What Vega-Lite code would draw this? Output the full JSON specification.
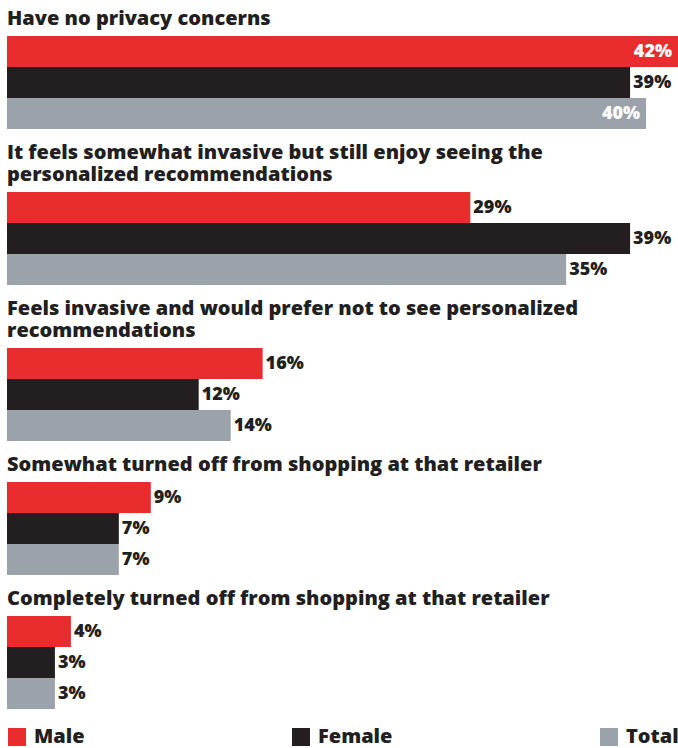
{
  "$schema": "https://vega.github.io/schema/vega-lite/v6.json",
  "padding": {"left": 7, "top": 9, "right": 0, "bottom": 0},
  "background": "white",
  "config": {
    "view": {"stroke": null},
    "title": {"font": "Open Sans", "fontWeight": 800, "fontSize": 20, "anchor": "start", "color": "#231f20", "lineHeight": 22, "offset": 7},
    "concat": {"spacing": 14},
    "text": {"font": "Open Sans", "fontWeight": 800, "fontSize": 18}
  },
  "data": {
    "values": [
      {"q": 1, "series": "Male", "value": 42},
      {"q": 1, "series": "Female", "value": 39},
      {"q": 1, "series": "Total", "value": 40},
      {"q": 2, "series": "Male", "value": 29},
      {"q": 2, "series": "Female", "value": 39},
      {"q": 2, "series": "Total", "value": 35},
      {"q": 3, "series": "Male", "value": 16},
      {"q": 3, "series": "Female", "value": 12},
      {"q": 3, "series": "Total", "value": 14},
      {"q": 4, "series": "Male", "value": 9},
      {"q": 4, "series": "Female", "value": 7},
      {"q": 4, "series": "Total", "value": 7},
      {"q": 5, "series": "Male", "value": 4},
      {"q": 5, "series": "Female", "value": 3},
      {"q": 5, "series": "Total", "value": 3}
    ]
  },
  "transform": [{"calculate": "datum.value + '%'", "as": "label"}],
  "vconcat": [
    {
      "title": {"text": "Have no privacy concerns"},
      "width": 671, "height": 93,
      "transform": [{"filter": "datum.q == 1"}],
      "encoding": {
        "y": {"field": "series", "type": "nominal", "sort": ["Male", "Female", "Total"], "axis": null, "scale": {"paddingInner": 0, "paddingOuter": 0}},
        "x": {"field": "value", "type": "quantitative", "axis": null, "scale": {"domain": [0, 42]}}
      },
      "layer": [
        {"mark": {"type": "bar"}, "encoding": {"color": {"field": "series", "type": "nominal", "scale": {"domain": ["Male", "Female", "Total"], "range": ["#e92d2e", "#231f20", "#9ca2a9"]}, "legend": {"title": null, "orient": "bottom", "direction": "horizontal", "padding": 0, "symbolType": "square", "symbolSize": 324, "symbolStrokeWidth": 0, "symbolOpacity": 1, "labelFont": "Open Sans", "labelFontWeight": 800, "labelFontSize": 20, "labelColor": "#231f20", "columnPadding": 206, "labelOffset": 7, "offset": 18}}}},
        {"transform": [{"filter": "datum.value < 40"}], "mark": {"type": "text", "align": "left", "baseline": "middle", "dx": 3, "color": "#231f20"}, "encoding": {"text": {"field": "label"}}},
        {"transform": [{"filter": "datum.value >= 40"}], "mark": {"type": "text", "align": "right", "baseline": "middle", "dx": -6, "color": "white"}, "encoding": {"text": {"field": "label"}}}
      ]
    },
    {
      "title": {"text": ["It feels somewhat invasive but still enjoy seeing the", "personalized recommendations"]},
      "width": 671, "height": 93,
      "transform": [{"filter": "datum.q == 2"}],
      "encoding": {
        "y": {"field": "series", "type": "nominal", "sort": ["Male", "Female", "Total"], "axis": null, "scale": {"paddingInner": 0, "paddingOuter": 0}},
        "x": {"field": "value", "type": "quantitative", "axis": null, "scale": {"domain": [0, 42]}}
      },
      "layer": [
        {"mark": {"type": "bar"}, "encoding": {"color": {"field": "series", "type": "nominal"}}},
        {"transform": [{"filter": "datum.value < 40"}], "mark": {"type": "text", "align": "left", "baseline": "middle", "dx": 3, "color": "#231f20"}, "encoding": {"text": {"field": "label"}}},
        {"transform": [{"filter": "datum.value >= 40"}], "mark": {"type": "text", "align": "right", "baseline": "middle", "dx": -6, "color": "white"}, "encoding": {"text": {"field": "label"}}}
      ]
    },
    {
      "title": {"text": ["Feels invasive and would prefer not to see personalized", "recommendations"]},
      "width": 671, "height": 93,
      "transform": [{"filter": "datum.q == 3"}],
      "encoding": {
        "y": {"field": "series", "type": "nominal", "sort": ["Male", "Female", "Total"], "axis": null, "scale": {"paddingInner": 0, "paddingOuter": 0}},
        "x": {"field": "value", "type": "quantitative", "axis": null, "scale": {"domain": [0, 42]}}
      },
      "layer": [
        {"mark": {"type": "bar"}, "encoding": {"color": {"field": "series", "type": "nominal"}}},
        {"transform": [{"filter": "datum.value < 40"}], "mark": {"type": "text", "align": "left", "baseline": "middle", "dx": 3, "color": "#231f20"}, "encoding": {"text": {"field": "label"}}},
        {"transform": [{"filter": "datum.value >= 40"}], "mark": {"type": "text", "align": "right", "baseline": "middle", "dx": -6, "color": "white"}, "encoding": {"text": {"field": "label"}}}
      ]
    },
    {
      "title": {"text": "Somewhat turned off from shopping at that retailer"},
      "width": 671, "height": 93,
      "transform": [{"filter": "datum.q == 4"}],
      "encoding": {
        "y": {"field": "series", "type": "nominal", "sort": ["Male", "Female", "Total"], "axis": null, "scale": {"paddingInner": 0, "paddingOuter": 0}},
        "x": {"field": "value", "type": "quantitative", "axis": null, "scale": {"domain": [0, 42]}}
      },
      "layer": [
        {"mark": {"type": "bar"}, "encoding": {"color": {"field": "series", "type": "nominal"}}},
        {"transform": [{"filter": "datum.value < 40"}], "mark": {"type": "text", "align": "left", "baseline": "middle", "dx": 3, "color": "#231f20"}, "encoding": {"text": {"field": "label"}}},
        {"transform": [{"filter": "datum.value >= 40"}], "mark": {"type": "text", "align": "right", "baseline": "middle", "dx": -6, "color": "white"}, "encoding": {"text": {"field": "label"}}}
      ]
    },
    {
      "title": {"text": "Completely turned off from shopping at that retailer"},
      "width": 671, "height": 93,
      "transform": [{"filter": "datum.q == 5"}],
      "encoding": {
        "y": {"field": "series", "type": "nominal", "sort": ["Male", "Female", "Total"], "axis": null, "scale": {"paddingInner": 0, "paddingOuter": 0}},
        "x": {"field": "value", "type": "quantitative", "axis": null, "scale": {"domain": [0, 42]}}
      },
      "layer": [
        {"mark": {"type": "bar"}, "encoding": {"color": {"field": "series", "type": "nominal"}}},
        {"transform": [{"filter": "datum.value < 40"}], "mark": {"type": "text", "align": "left", "baseline": "middle", "dx": 3, "color": "#231f20"}, "encoding": {"text": {"field": "label"}}},
        {"transform": [{"filter": "datum.value >= 40"}], "mark": {"type": "text", "align": "right", "baseline": "middle", "dx": -6, "color": "white"}, "encoding": {"text": {"field": "label"}}}
      ]
    }
  ],
  "resolve": {"scale": {"color": "shared"}}
}
